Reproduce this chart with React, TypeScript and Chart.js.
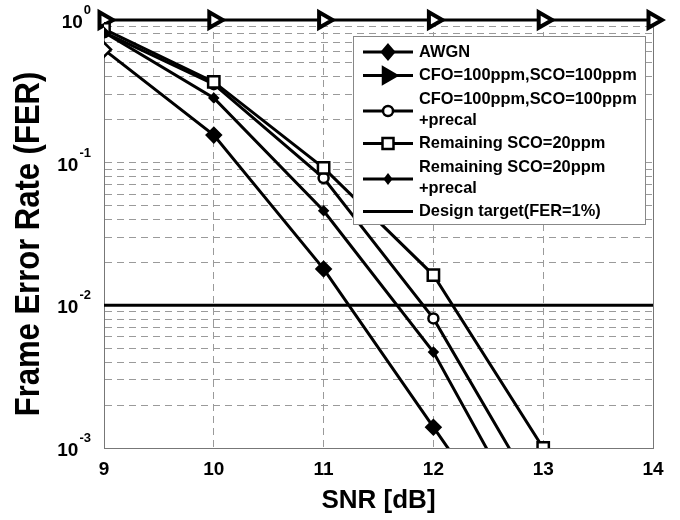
import React, { useEffect, useRef } from 'react';
import { Chart, registerables } from 'chart.js';

Chart.register(...registerables);

// ---- data ----
const snrDb = [9, 10, 11, 12, 13, 14];
const awgnFer = [0.62, 0.156, 0.018, 0.0014, 0.00011];
const cfoScoFer = [1, 1, 1, 1, 1, 1];
const cfoScoPrecalFer = [0.82, 0.355, 0.078, 0.0081, 0.00039];
const remSco20Fer = [0.865, 0.368, 0.092, 0.0163, 0.001];
const remSco20PrecalFer = [0.82, 0.284, 0.046, 0.0047, 0.00019];
const designTargetX = [9, 14];
const designTargetFer = [0.01, 0.01];

const yDecades = [1, 0.1, 0.01, 0.001];
const yDecadeExponents = ['0', '-1', '-2', '-3'];
const yMinorMultipliers = [1, 2, 3, 4, 5, 6, 7, 8, 9];

const seriesLabels: string[][] = [
  ['AWGN'],
  ['CFO=100ppm,SCO=100ppm'],
  ['CFO=100ppm,SCO=100ppm', '+precal'],
  ['Remaining SCO=20ppm'],
  ['Remaining SCO=20ppm', '+precal'],
  ['Design target(FER=1%)'],
];
const markerKinds = ['diamond', 'triangle', 'circle', 'square', 'plus', 'none'];

const xTitle = 'SNR [dB]';
const yTitle = 'Frame Error Rate (FER)';

const FONT = '"Liberation Sans", Arial, Helvetica, sans-serif';

function drawMarker(ctx: CanvasRenderingContext2D, kind: string, x: number, y: number) {
  ctx.save();
  ctx.strokeStyle = '#000';
  ctx.fillStyle = '#fff';
  ctx.lineWidth = 2.5;
  ctx.beginPath();
  if (kind === 'diamond') {
    ctx.fillStyle = '#000';
    ctx.moveTo(x, y - 7); ctx.lineTo(x + 6, y); ctx.lineTo(x, y + 7); ctx.lineTo(x - 6, y); ctx.closePath();
    ctx.fill(); ctx.stroke();
  } else if (kind === 'triangle') {
    ctx.fillStyle = '#000';
    ctx.moveTo(x + 9, y); ctx.lineTo(x - 5, y - 8); ctx.lineTo(x - 5, y + 8); ctx.closePath();
    ctx.fill(); ctx.stroke();
  } else if (kind === 'circle') {
    ctx.arc(x, y, 5, 0, Math.PI * 2);
    ctx.fill(); ctx.stroke();
  } else if (kind === 'square') {
    ctx.rect(x - 5.5, y - 5.5, 11, 11);
    ctx.fill(); ctx.stroke();
  } else if (kind === 'plus') {
    ctx.fillStyle = '#000';
    ctx.moveTo(x, y - 4); ctx.lineTo(x + 3, y); ctx.lineTo(x, y + 4); ctx.lineTo(x - 3, y); ctx.closePath();
    ctx.fill(); ctx.stroke();
  }
  ctx.restore();
}

const overlayPlugin = {
  id: 'overlay',
  beforeDatasetsDraw(chart: any) {
    const ctx: CanvasRenderingContext2D = chart.ctx;
    const area = chart.chartArea;
    ctx.save();
    ctx.strokeStyle = '#777';
    ctx.lineWidth = 1;
    ctx.strokeRect(area.left + 0.5, area.top + 0.5, area.right - area.left, area.bottom - area.top);
    ctx.restore();
  },
  afterDraw(chart: any) {
    const ctx: CanvasRenderingContext2D = chart.ctx;
    const area = chart.chartArea;
    const yScale = chart.scales.y;
    ctx.save();

    // y tick labels with superscripts
    ctx.fillStyle = '#000';
    yDecades.forEach((v, i) => {
      const py = yScale.getPixelForValue(v);
      const exp = yDecadeExponents[i];
      ctx.font = `bold 19px ${FONT}`;
      const wBase = ctx.measureText('10').width;
      ctx.font = `bold 13px ${FONT}`;
      const wExp = ctx.measureText(exp).width;
      const right = 91;
      const baseX = right - wExp - 1 - wBase;
      ctx.font = `bold 19px ${FONT}`;
      ctx.textAlign = 'left';
      ctx.textBaseline = 'alphabetic';
      ctx.fillText('10', baseX, py + 8);
      ctx.font = `bold 13px ${FONT}`;
      ctx.fillText(exp, baseX + wBase + 1, py - 6);
    });

    // axis titles
    ctx.font = `bold 26px ${FONT}`;
    ctx.textAlign = 'center';
    ctx.textBaseline = 'middle';
    ctx.fillText(xTitle, (area.left + area.right) / 2, 501);
    ctx.save();
    ctx.translate(29, (area.top + area.bottom) / 2 + 10);
    ctx.rotate(-Math.PI / 2);
    ctx.scale(1, 1.15);
    ctx.font = `bold 31px ${FONT}`;
    ctx.fillText(yTitle, 0, 0);
    ctx.restore();

    // legend
    const bx = area.right - 8 - 292;
    const by = area.top + 16;
    const bw = 292;
    const bh = 188;
    ctx.fillStyle = '#fff';
    ctx.fillRect(bx, by, bw, bh);
    ctx.strokeStyle = '#888';
    ctx.lineWidth = 1;
    ctx.strokeRect(bx + 0.5, by + 0.5, bw, bh);
    const rowH = 21;
    let y = by + 16;
    ctx.font = `bold 16.4px ${FONT}`;
    ctx.textAlign = 'left';
    ctx.textBaseline = 'middle';
    seriesLabels.forEach((lines, i) => {
      const n = lines.length;
      const midY = y + ((n - 1) * rowH) / 2 + (n > 1 ? 1.5 : 0);
      ctx.strokeStyle = '#000';
      ctx.lineWidth = 3;
      ctx.beginPath();
      ctx.moveTo(bx + 10, midY);
      ctx.lineTo(bx + 60, midY);
      ctx.stroke();
      drawMarker(ctx, markerKinds[i], bx + 35, midY);
      ctx.fillStyle = '#000';
      lines.forEach((t, j) => ctx.fillText(t, bx + 66, y + j * rowH));
      y += n * rowH + 2.5;
    });
    ctx.restore();
  },
};

export default function App() {
  const ref = useRef<HTMLCanvasElement>(null);
  useEffect(() => {
    const pts = (arr: number[]) => arr.map((v, i) => ({ x: snrDb[i], y: v }));
    const base = {
      borderColor: '#000',
      borderWidth: 3,
      pointBorderColor: '#000',
      pointBorderWidth: 2.5,
      tension: 0,
      fill: false,
    };
    const chart = new Chart(ref.current as HTMLCanvasElement, {
      type: 'line',
      data: {
        datasets: [
          { ...base, label: seriesLabels[5].join(' '), data: designTargetX.map((x, i) => ({ x, y: designTargetFer[i] })), pointRadius: 0 },
          { ...base, label: seriesLabels[4].join(' '), data: pts(remSco20PrecalFer), pointStyle: 'rectRot', pointRadius: 4, pointBackgroundColor: '#000' },
          { ...base, label: seriesLabels[3].join(' '), data: pts(remSco20Fer), pointStyle: 'rect', pointRadius: 8, pointBackgroundColor: '#fff' },
          { ...base, label: seriesLabels[2].join(' '), data: pts(cfoScoPrecalFer), pointStyle: 'circle', pointRadius: 5, pointBackgroundColor: '#fff' },
          { ...base, label: seriesLabels[0].join(' '), data: pts(awgnFer), pointStyle: 'rectRot', pointRadius: 7, pointBackgroundColor: ['#fff', '#000', '#000', '#000', '#000'] },
          { ...base, label: seriesLabels[1].join(' '), data: pts(cfoScoFer), pointStyle: 'triangle', pointRotation: 90, pointRadius: 9, pointBackgroundColor: '#fff', pointBorderWidth: 4, clip: 14 },
        ] as any,
      },
      options: {
        animation: false,
        responsive: false,
        layout: { padding: { top: 20, right: 27, left: 0, bottom: 0 } },
        plugins: { legend: { display: false }, tooltip: { enabled: false } },
        scales: {
          x: {
            type: 'linear',
            min: 9,
            max: 14,
            afterFit: (s: any) => { s.height = 72; },
            ticks: { stepSize: 1, color: '#000', font: { family: FONT, size: 19, weight: 'bold' }, padding: 10 },
            grid: { color: '#9a9a9a', lineWidth: 1, drawTicks: false },
            border: { display: true, color: '#555', width: 1, dash: [7, 5] },
          },
          y: {
            type: 'logarithmic',
            min: 0.001,
            max: 1,
            afterFit: (s: any) => { s.width = 104; },
            afterBuildTicks: (s: any) => {
              const t: any[] = [];
              yDecades.slice().reverse().forEach((d) => {
                if (d >= 1) { t.push({ value: d }); return; }
                yMinorMultipliers.forEach((m) => t.push({ value: d * m }));
              });
              s.ticks = t;
            },
            ticks: { display: false },
            grid: { color: '#9a9a9a', lineWidth: 1, drawTicks: false },
            border: { display: true, color: '#555', width: 1, dash: [7, 5] },
          },
        },
      } as any,
      plugins: [overlayPlugin],
    });
    return () => chart.destroy();
  }, []);
  return (
    <div style={{ position: 'fixed', left: 0, top: 0, width: 680, height: 520, background: '#fff' }}>
      <canvas ref={ref} width={680} height={520} style={{ width: 680, height: 520 }} />
    </div>
  );
}
